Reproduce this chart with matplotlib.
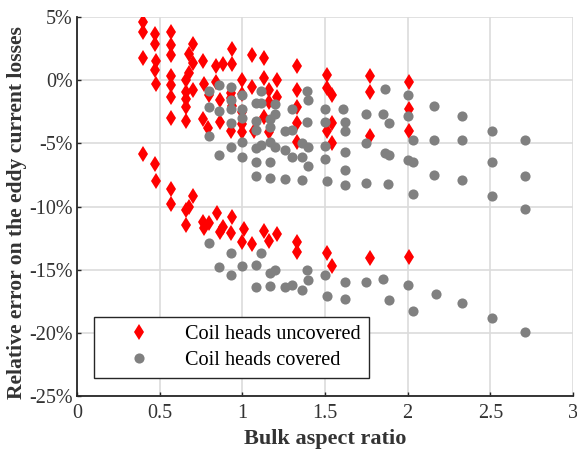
import matplotlib
matplotlib.use("Agg")
import matplotlib.pyplot as plt
from matplotlib.ticker import FuncFormatter

# ---- data: Coil heads uncovered (red diamonds) ----
unc_x = [0.40, 0.40, 0.40,
         0.47, 0.47, 0.47, 0.48, 0.48,
         0.57, 0.57, 0.57, 0.57, 0.57, 0.57, 0.57,
         0.66, 0.66, 0.66, 0.66, 0.66, 0.68, 0.68,
         0.70, 0.70, 0.70, 0.76, 0.76, 0.77, 0.79, 0.80,
         0.84, 0.84, 0.865, 0.865, 0.885,
         0.93, 0.93, 0.93, 0.94, 0.94, 0.94,
         1.00, 1.00, 1.00, 1.00, 1.00,
         1.06, 1.06, 1.07, 1.13, 1.13, 1.13,
         1.16, 1.16, 1.16, 1.21, 1.21,
         1.33, 1.33, 1.33, 1.33, 1.33,
         1.51, 1.51, 1.51, 1.54, 1.54, 1.54,
         1.77, 1.77, 1.77, 2.01, 2.01, 2.01,
         # lower band
         0.40, 0.47, 0.48, 0.57, 0.57, 0.66, 0.66, 0.68, 0.70,
         0.76, 0.77, 0.80, 0.845, 0.865, 0.885, 0.94, 0.93,
         1.01, 1.00, 1.06, 1.13, 1.16, 1.21, 1.33, 1.33,
         1.51, 1.54, 1.77, 2.01]
unc_y = [4.6, 3.8, 1.8,
         3.7, 2.9, 0.8, 1.5, -0.3,
         3.8, 2.8, 2.0, 0.3, -0.4, -1.3, -3.0,
         0.0, -0.9, -1.5, -2.1, -3.2, 2.1, 0.6,
         2.9, 1.4, -0.8, 1.5, -3.1, -0.3, -3.8, -1.2,
         1.1, -0.1, -1.6, -3.3, 1.3,
         -1.0, -1.4, -4.0, 2.5, 1.3, -2.0,
         0.0, -1.05, -2.5, -3.5, -4.1,
         2.0, -0.5, -4.0, 1.8, 0.2, -2.9,
         -0.8, -1.7, -4.1, 0.0, -1.3,
         1.1, -0.8, -2.1, -3.4, -4.9,
         0.45, -0.65, -4.0, -1.2, -3.4, -5.0,
         0.3, -0.9, -4.4, -0.1, -2.3, -4.0,
         # lower band
         -5.8, -6.6, -8.0, -8.65, -9.8, -10.3, -11.5, -10.0, -9.2,
         -11.2, -11.7, -11.3, -10.5, -12.0, -11.6, -10.8, -12.1,
         -11.8, -12.8, -13.0, -11.9, -12.7, -12.2, -12.8, -13.6,
         -13.7, -14.7, -14.1, -14.0]

# ---- data: Coil heads covered (gray circles) ----
cov_x = [0.80, 0.80, 0.80,
         0.86, 0.86, 0.86,
         0.93, 0.93, 0.93, 0.93, 0.93,
         1.00, 1.00, 1.00, 1.00, 1.00,
         1.08, 1.08, 1.08, 1.08, 1.08, 1.08,
         1.11, 1.11, 1.11,
         1.17, 1.17, 1.17, 1.17, 1.17,
         1.20, 1.20, 1.20,
         1.26, 1.26, 1.26,
         1.30, 1.30, 1.30,
         1.36, 1.36, 1.36,
         1.39, 1.40, 1.39, 1.40, 1.40,
         1.50, 1.50, 1.50, 1.50, 1.51,
         1.61, 1.62, 1.62, 1.62, 1.62, 1.62,
         1.75, 1.75, 1.75,
         1.86, 1.85, 1.86, 1.88,
         1.89, 1.89,
         2.00, 2.00, 2.00,
         2.03, 2.03, 2.03,
         2.16, 2.16, 2.16,
         2.33, 2.33, 2.33,
         2.51, 2.51, 2.51,
         2.71, 2.71, 2.71,
         # lower band
         0.80, 0.86, 0.93, 0.93, 1.00, 1.08, 1.08, 1.11,
         1.17, 1.17, 1.20, 1.26, 1.30, 1.36, 1.39, 1.40,
         1.50, 1.51, 1.62, 1.62, 1.75, 1.85, 1.89, 2.00,
         2.03, 2.17, 2.33, 2.51, 2.71]
cov_y = [-0.85, -2.1, -4.4,
         -0.4, -2.4, -5.9,
         -0.5, -1.6, -2.3, -3.4, -5.3,
         -1.2, -2.3, -3.0, -4.9, -6.1,
         -1.8, -3.2, -3.9, -5.4, -6.5, -7.6,
         -0.85, -1.8, -5.1,
         -3.1, -3.7, -4.9, -6.5, -7.7,
         -1.9, -2.7, -5.3,
         -4.0, -5.5, -7.8,
         -2.3, -3.9, -6.1,
         -5.0, -6.1, -7.9,
         -0.85, -1.6, -3.3, -5.3, -6.8,
         -2.3, -3.3, -5.2, -6.2, -8.0,
         -2.3, -3.3, -4.0, -5.7, -7.1, -8.3,
         -2.7, -5.0, -8.1,
         -0.7, -2.7, -5.75, -8.2,
         -3.4, -5.9,
         -1.2, -2.8, -6.3,
         -4.7, -6.5, -9.0,
         -2.0, -4.7, -7.5,
         -2.8, -4.7, -7.9,
         -4.0, -6.5, -9.2,
         -4.7, -7.6, -10.2,
         # lower band
         -12.9, -14.8, -13.7, -15.4, -14.7, -14.6, -16.4, -13.7,
         -15.3, -16.3, -15.0, -16.4, -16.2, -16.6, -15.0, -15.8,
         -15.4, -17.1, -16.0, -17.3, -16.0, -15.7, -17.4, -16.2,
         -18.3, -16.9, -17.6, -18.8, -19.9]

labels = ["Coil heads uncovered", "Coil heads covered"]
x_ticks = [0, 0.5, 1, 1.5, 2, 2.5, 3]
y_ticks = [5, 0, -5, -10, -15, -20, -25]

plt.rcParams['font.family'] = ['Liberation Serif', 'DejaVu Serif']

fig = plt.figure(figsize=(5.77, 4.5), dpi=100)
ax = fig.add_axes([0.1335, 0.12, 0.8595, 0.842])

ax.plot(unc_x, unc_y, linestyle='none', marker='d', markersize=8.6,
        color='#ff0000', markeredgewidth=0, label=labels[0], zorder=3)
ax.plot(cov_x, cov_y, linestyle='none', marker='o', markersize=7.3,
        color='#808080', markeredgewidth=0, label=labels[1], zorder=4)

ax.set_xlim(0, 3)
ax.set_ylim(-25, 5)
ax.set_xticks(x_ticks)
ax.set_yticks(y_ticks)
ax.xaxis.set_major_formatter(FuncFormatter(lambda v, p: f"{v:g}"))
ax.yaxis.set_major_formatter(FuncFormatter(lambda v, p: f"{v:g}%"))
ax.tick_params(direction='in', length=3, width=1, labelsize=14.5, colors='#262626',
               labelcolor='#333333')
ax.tick_params(axis='x', pad=6)
ax.tick_params(axis='y', pad=3)
ax.grid(True, color='#dcdcdc', linewidth=1.2, zorder=0)
ax.set_axisbelow(True)
for s in ['top', 'right']:
    ax.spines[s].set_visible(False)
for s in ['left', 'bottom']:
    ax.spines[s].set_linewidth(1.3)
    ax.spines[s].set_color('#262626')

ax.set_xlabel("Bulk aspect ratio", fontsize=16, fontweight='bold', color='#333333')
ax.set_ylabel("Relative error on the eddy current losses", fontsize=15.6,
              fontweight='bold', color='#333333')
ax.xaxis.set_label_coords(0.5, -0.086)
ax.yaxis.set_label_coords(-0.1, 0.485)

leg = ax.legend(loc='lower left', bbox_to_anchor=(0.034, 0.047), fontsize=14.6,
                frameon=True, fancybox=False, edgecolor='#262626', framealpha=1,
                borderpad=0.42, handletextpad=0.45, labelspacing=0.3, handlelength=3.6,
                borderaxespad=0)
leg.get_frame().set_linewidth(1.0)

fig.savefig("out.png", dpi=100)
